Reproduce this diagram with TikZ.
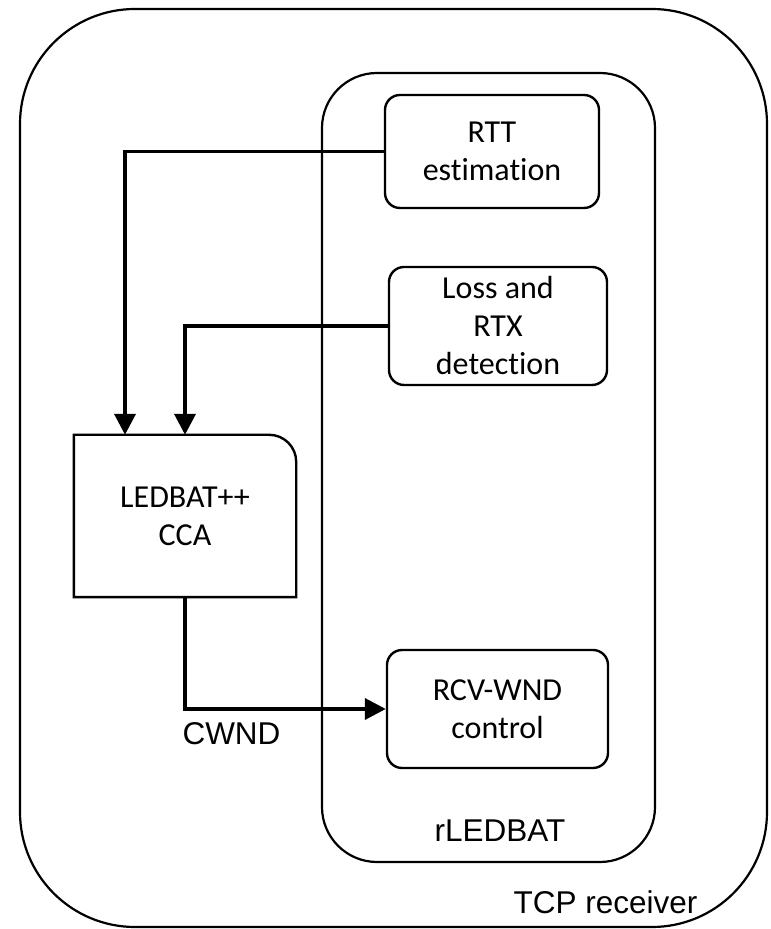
\documentclass[tikz,border=0pt]{standalone}
\usepackage{fontspec}
\setmainfont{Carlito}[Ligatures=NoCommon]
\newfontfamily\arialfont{Liberation Sans}
\usetikzlibrary{arrows.meta}
\definecolor{Ink}{HTML}{000000}

\begin{document}
\begin{tikzpicture}[x=1pt,y=1pt,>={Triangle[length=21pt,width=21pt]},
  block/.style={draw=Ink,line width=2.4pt,rounded corners=15pt,align=center,inner sep=0pt,font=\fontsize{32}{38}\selectfont},
  ccabox/.style={align=center,inner sep=0pt,minimum width=222pt,minimum height=162pt,font=\fontsize{32}{38}\selectfont},
  flow/.style={->,draw=Ink,line width=3.8pt},
  tag/.style={inner sep=0pt,font=\arialfont\fontsize{31.5}{36}\selectfont}]
\useasboundingbox (0,0) rectangle (771,929);
% TCP receiver and rLEDBAT frames
\draw[Ink,line width=2.2pt,rounded corners=115pt] (20,2) rectangle (767,920);
\draw[Ink,line width=2.2pt,rounded corners=55pt] (322,67) rectangle (655,856);
\node[tag] (rcvr) at (605.5,27) {TCP receiver};
\node[tag] (rled) at (500,98) {rLEDBAT};
% blocks
\node[block,minimum width=214pt,minimum height=113pt] (rtt) at (492,777.5) {RTT\\estimation};
\node[block,minimum width=218pt,minimum height=118pt] (loss) at (498,603) {Loss and\\RTX\\detection};
\node[block,minimum width=221pt,minimum height=118pt] (rcv) at (497.5,220) {RCV-WND\\control};
\node[ccabox] (cca) at (185,413) {LEDBAT++\\CCA};
\draw[Ink,line width=2.4pt] (cca.south west) -- (cca.north west) -- ([xshift=-27pt]cca.north east)
  arc[start angle=90,end angle=0,radius=27pt] -- (cca.south east) -- cycle;
% connectors
\draw[flow] (rtt.west) -| ([xshift=-60pt]cca.north);
\draw[flow] (loss.west) -| (cca.north);
\draw[flow] (cca.south) |- (rcv.west);
\node[tag] (cwnd) at (231.5,195) {CWND};
\end{tikzpicture}
\end{document}
